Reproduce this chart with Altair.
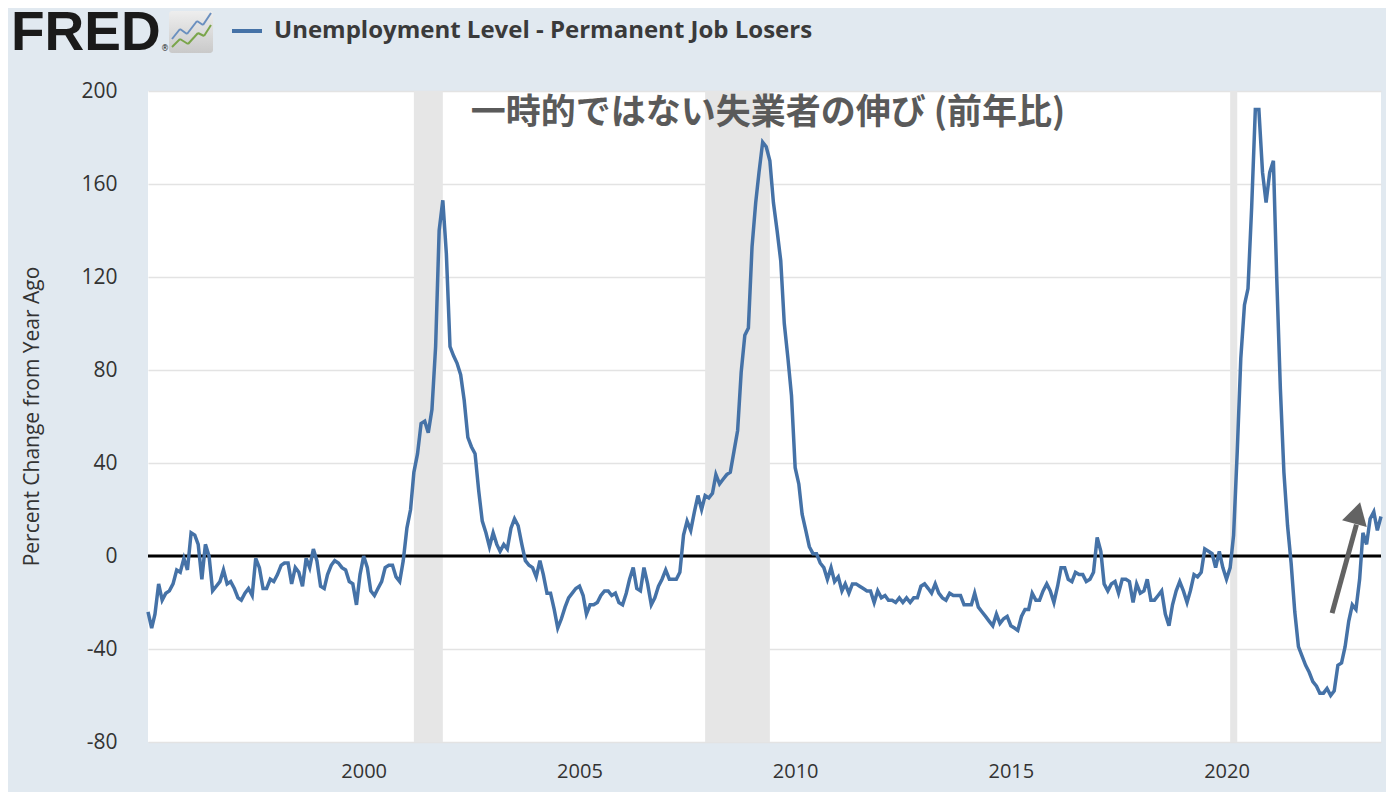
import altair as alt
import pandas as pd

# Monthly % change from year ago, Jan 1995 .. Aug 2023
v1995 = [-24, -31, -25, -12, -19, -16, -15, -12, -6, -7, -1, -6]
v1996 = [10, 9, 5, -10, 5, 0, -15, -13, -11, -6, -12, -11]
v1997 = [-14, -18, -19, -16, -14, -17, -1, -5, -14, -14, -10, -11]
v1998 = [-8, -4, -3, -3, -12, -5, -7, -13, -1, -5, 3, -2]
v1999 = [-13, -14, -8, -4, -2, -3, -5, -6, -11, -12, -21, -8]
v2000 = [0, -5, -15, -17, -14, -11, -5, -4, -4, -9, -11, -2]
v2001 = [12, 20, 36, 44, 57, 58, 53, 63, 90, 140, 153, 130]
v2002 = [90, 86, 83, 78, 67, 51, 47, 44, 28, 15, 10, 4]
v2003 = [10, 5, 2, 5, 3, 12, 16, 13, 5, -2, -4, -5]
v2004 = [-9, -2, -8, -16, -16, -23, -31, -27, -22, -18, -16, -14]
v2005 = [-13, -17, -25, -21, -21, -20, -17, -15, -15, -17, -16, -20]
v2006 = [-21, -16, -10, -5, -14, -15, -5, -12, -21, -18, -13, -10]
v2007 = [-6, -10, -10, -10, -7, 9, 15, 11, 19, 26, 20, 26]
v2008 = [25, 27, 35, 31, 33, 35, 36, 45, 54, 79, 95, 98]
v2009 = [133, 152, 165, 178, 176, 170, 152, 140, 127, 100, 85, 69]
v2010 = [38, 31, 18, 11, 4, 1, 1, -3, -5, -10, -5, -11]
v2011 = [-9, -15, -12, -16, -12, -12, -13, -14, -15, -15, -20, -15]
v2012 = [-18, -17, -19, -19, -20, -18, -20, -18, -20, -18, -18, -13]
v2013 = [-12, -14, -16, -12, -16, -18, -19, -16, -17, -17, -17, -21]
v2014 = [-21, -21, -16, -22, -24, -26, -28, -30, -25, -29, -27, -26]
v2015 = [-30, -31, -32, -26, -23, -23, -16, -19, -19, -15, -12, -15]
v2016 = [-20, -13, -5, -5, -10, -11, -7, -8, -8, -11, -10, -7]
v2017 = [8, 2, -12, -15, -12, -11, -16, -10, -10, -11, -20, -12]
v2018 = [-16, -15, -10, -19, -19, -17, -15, -25, -30, -21, -15, -11]
v2019 = [-15, -20, -15, -8, -9, -7, 3, 2, 1, -5, 2, -5]
v2020 = [-10, -5, 9, 45, 85, 108, 115, 150, 192, 192, 165, 152]
v2021 = [165, 170, 120, 72, 36, 13, -3, -24, -39, -43, -47, -50]
v2022 = [-54, -56, -59, -59, -57, -60, -58, -47, -46, -39, -28, -21]
v2023 = [-23, -10, 10, 5, 16, 19, 11, 17]

values = (v1995 + v1996 + v1997 + v1998 + v1999 + v2000 + v2001 + v2002 + v2003
          + v2004 + v2005 + v2006 + v2007 + v2008 + v2009 + v2010 + v2011 + v2012
          + v2013 + v2014 + v2015 + v2016 + v2017 + v2018 + v2019 + v2020 + v2021
          + v2022 + v2023)

dates = pd.date_range("1995-01-01", periods=len(values), freq="MS")
df = pd.DataFrame({"date": dates.strftime("%Y-%m-%dT00:00:00"), "value": values})

rec_start = ["2001-03-01T00:00:00", "2007-12-01T00:00:00", "2020-02-01T00:00:00"]
rec_end = ["2001-11-01T00:00:00", "2009-06-01T00:00:00", "2020-04-01T00:00:00"]
rec = pd.DataFrame({"start": rec_start, "end": rec_end})

y_ticks = [-80, -40, 0, 40, 80, 120, 160, 200]
x_ticks = ["2000-01-01T00:00:00", "2005-01-01T00:00:00", "2010-01-01T00:00:00",
           "2015-01-01T00:00:00", "2020-01-01T00:00:00"]

arrow_dates = ["2022-06-13T00:00:00", "2023-01-05T00:00:00"]
arrow_vals = [-24.6, 13.5]
arrow_head_date = ["2023-01-12T00:00:00"]
arrow_head_val = [18.5]

series_title = "Unemployment Level - Permanent Job Losers"
annotation = "一時的ではない失業者の伸び (前年比)"
y_title = "Percent Change from Year Ago"

LINE = "#4572a7"
TXT = "#333333"

xscale = alt.Scale(domain=["1995-01-01T00:00:00", "2023-08-01T00:00:00"])
yscale = alt.Scale(domain=[-80, 200], nice=False, zero=False)

x_enc = alt.X("date:T", scale=xscale,
              axis=alt.Axis(values=x_ticks, format="%Y", title=None, grid=False,
                            ticks=False, domain=False, labelFontSize=20,
                            labelColor=TXT, labelPadding=19, labelFont="Open Sans"))
y_enc = alt.Y("value:Q", scale=yscale,
              axis=alt.Axis(values=y_ticks, title=y_title, grid=True,
                            labelExpr="datum.value + ''",
                            gridColor="#e3e3e3", gridWidth=1.5, ticks=False,
                            domain=False, labelFontSize=21, labelColor=TXT,
                            labelPadding=31, labelFont="Open Sans",
                            titleFont="Open Sans", titleFontSize=21,
                            titleFontWeight="normal", titleColor=TXT,
                            titleX=-116, titleY=325, titleBaseline="middle"))

shade = alt.Chart(rec).mark_rect(color="#e6e6e6").encode(
    x=alt.X("start:T", scale=xscale), x2="end:T")

line = alt.Chart(df).mark_line(color=LINE, strokeWidth=3.5).encode(x=x_enc, y=y_enc)

zero = alt.Chart(alt.Data(values=[{}])).mark_rule(color="black", strokeWidth=3).encode(
    y=alt.datum(0, scale=yscale))

arrow_df = pd.DataFrame({"date": arrow_dates, "value": arrow_vals})
arrow_line = alt.Chart(arrow_df).mark_line(color="#636363", strokeWidth=5).encode(
    x=alt.X("date:T", scale=xscale), y=alt.Y("value:Q", scale=yscale))
head_df = pd.DataFrame({"date": arrow_head_date, "value": arrow_head_val})
arrow_head = alt.Chart(head_df).mark_point(
    shape="triangle-up", filled=True, color="#636363", size=650, angle=15, opacity=1
).encode(x=alt.X("date:T", scale=xscale), y=alt.Y("value:Q", scale=yscale))

one = alt.Data(values=[{}])

ann = alt.Chart(one).mark_text(
    font="Noto Sans CJK JP", fontWeight="bold", fontSize=35, color="#5a5a5a",
    align="center", baseline="middle"
).encode(x=alt.value(620), y=alt.value(22), text=alt.value(annotation))

fred = alt.Chart(one).mark_text(
    font="Liberation Sans", fontWeight="bold", fontSize=55, color="#1a1a1a",
    align="left", baseline="alphabetic"
).encode(x=alt.value(-137), y=alt.value(-41), text=alt.value("FRED"))

reg = alt.Chart(one).mark_text(
    font="DejaVu Sans", fontSize=8, color="#1a1a1a", align="left", baseline="alphabetic"
).encode(x=alt.value(13), y=alt.value(-40), text=alt.value("®"))

icon = alt.Chart(one).mark_rect(
    cornerRadius=3,
    fill=alt.LinearGradient(gradient="linear", x1=0, x2=0, y1=0, y2=1,
                            stops=[alt.GradientStop(color="#eeeeee", offset=0),
                                   alt.GradientStop(color="#c9c9c9", offset=1)])
).encode(x=alt.value(21), x2=alt.value(65), y=alt.value(-80), y2=alt.value(-38))


def seg(x1, y1, x2, y2, color, w=2):
    return alt.Chart(one).mark_rule(color=color, strokeWidth=w).encode(
        x=alt.value(x1), x2=alt.value(x2), y=alt.value(y1), y2=alt.value(y2))


blue_pts = [(24, -52), (32, -62), (39, -57), (49, -70), (55, -66), (63, -78)]
green_pts = [(24, -44), (32, -52), (40, -47), (50, -58), (56, -55), (63, -66)]
icon_lines = []
for pts, col in [(blue_pts, "#6a8fbf"), (green_pts, "#7aa54a")]:
    for (a, b), (c, d) in zip(pts[:-1], pts[1:]):
        icon_lines.append(seg(a, b, c, d, col))

legend_line = seg(84, -60, 114, -60, LINE, 4)
legend_text = alt.Chart(one).mark_text(
    font="Open Sans", fontWeight="bold", fontSize=24, color="#3a3a3a",
    align="left", baseline="middle"
).encode(x=alt.value(126), y=alt.value(-60), text=alt.value(series_title))

chart = alt.layer(
    shade, zero, line, arrow_line, arrow_head, ann, fred, reg, icon,
    *icon_lines, legend_line, legend_text
).properties(
    width=1233, height=651,
    padding={"left": 140, "top": 83, "right": 5, "bottom": 50},
    autosize=alt.AutoSizeParams(type="none"),
    background="#e1e9f0",
).configure_view(fill="white", stroke=None)

chart.save("out.html", embed_options={"renderer": "svg", "actions": False})
